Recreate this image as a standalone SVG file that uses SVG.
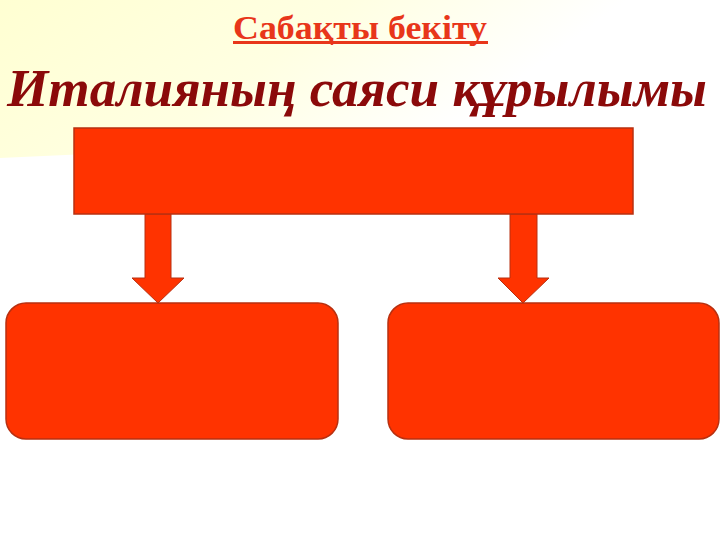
<svg xmlns="http://www.w3.org/2000/svg" width="720" height="540" viewBox="0 0 720 540">
  <defs>
    <linearGradient id="bg" x1="0" y1="0" x2="1" y2="0.3">
      <stop offset="0" stop-color="#FFFFD2"/>
      <stop offset="0.45" stop-color="#FFFFE2"/>
      <stop offset="0.8" stop-color="#FFFFFF"/>
    </linearGradient>
    <style>
      .box { fill: #FF3300; stroke: #B83010; stroke-width: 1.5; }
      .arrow { fill: #FF3300; stroke: #B83010; stroke-width: 1; }
      .sub { font-family: "Liberation Serif", serif; font-weight: bold; font-size: 34px; fill: #E8361A; }
      .title { font-family: "Liberation Serif", serif; font-weight: bold; font-style: italic; font-size: 52px; fill: #8B0A0A; }
    </style>
  </defs>
  <rect x="0" y="0" width="720" height="540" fill="#FFFFFF"/>
  <polygon points="0,0 720,0 720,125 0,158" fill="url(#bg)"/>

  <g id="subtitle">
    <text class="sub" x="360" y="39" text-anchor="middle" textLength="254" lengthAdjust="spacingAndGlyphs">Сабақты бекіту</text>
    <rect x="233" y="41" width="255" height="3" fill="#E8361A"/>
  </g>
  <g id="title">
    <text class="title" x="7" y="106" textLength="700" lengthAdjust="spacingAndGlyphs">Италияның саяси құрылымы</text>
  </g>

  <g id="connectors">
    <polygon class="arrow" points="145,214 171,214 171,278 184,278 158,303 132,278 145,278"/>
    <polygon class="arrow" points="510,214 537,214 537,278 549,278 523,303 498,278 510,278"/>
  </g>

  <g id="top-node">
    <rect class="box" x="74" y="128" width="559" height="86"/>
  </g>
  <g id="left-node">
    <rect class="box" x="6" y="303" width="332" height="136" rx="20" ry="20"/>
  </g>
  <g id="right-node">
    <rect class="box" x="388" y="303" width="331" height="136" rx="20" ry="20"/>
  </g>
</svg>
